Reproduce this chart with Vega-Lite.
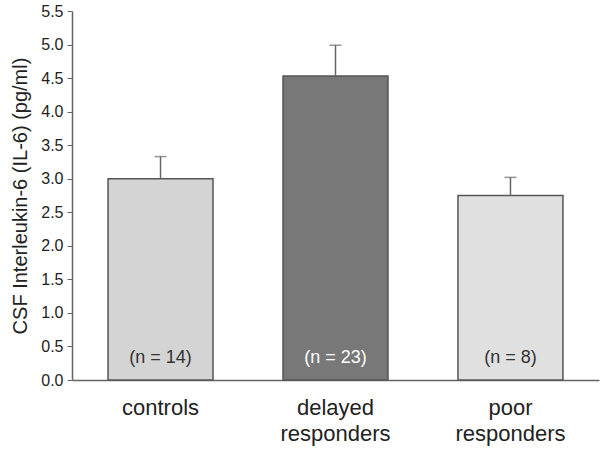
{
  "$schema": "https://vega.github.io/schema/vega-lite/v6.json",
  "width": 527,
  "height": 369,
  "autosize": {"type": "none"},
  "padding": {"left": 72, "top": 11, "right": 1, "bottom": 69},
  "background": "white",
  "config": {
    "font": "Liberation Sans",
    "view": {"stroke": null}
  },
  "data": {
    "values": [
      {"group": "controls", "mean": 3.0, "upper": 3.33, "n": "(n = 14)"},
      {"group": "delayed responders", "mean": 4.53, "upper": 4.99, "n": "(n = 23)"},
      {"group": "poor responders", "mean": 2.75, "upper": 3.02, "n": "(n = 8)"}
    ]
  },
  "encoding": {
    "x": {
      "field": "group",
      "type": "nominal",
      "sort": null,
      "scale": {"paddingInner": 0.4, "paddingOuter": 0.206},
      "axis": {
        "title": null,
        "labelAngle": 0,
        "labelFontSize": 22,
        "labelColor": "#222",
        "labelExpr": "split(datum.label, ' ')",
        "labelLineHeight": 26,
        "labelPadding": 17,
        "labelBaseline": "top",
        "ticks": false,
        "domainColor": "#666",
        "domainWidth": 1.5
      }
    },
    "y": {
      "field": "mean",
      "type": "quantitative",
      "scale": {"domain": [0, 5.5], "nice": false},
      "axis": {
        "title": "CSF Interleukin-6 (IL-6) (pg/ml)",
        "titleFontSize": 20,
        "titleFontWeight": "normal",
        "titleColor": "#222",
        "titlePadding": 10,
        "values": [0, 0.5, 1, 1.5, 2, 2.5, 3, 3.5, 4, 4.5, 5, 5.5],
        "tickCount": 20,
        "format": ".1f",
        "labelFontSize": 16,
        "labelColor": "#222",
        "labelPadding": 4,
        "labelOverlap": false,
        "labelBound": false,
        "grid": false,
        "tickColor": "#666",
        "tickSize": 5,
        "domainColor": "#666",
        "domainWidth": 1.5
      }
    }
  },
  "layer": [
    {
      "mark": {"type": "bar", "stroke": "#555", "strokeWidth": 1.5},
      "encoding": {
        "fill": {
          "field": "group",
          "type": "nominal",
          "scale": {
            "domain": ["controls", "delayed responders", "poor responders"],
            "range": ["#d4d4d4", "#787878", "#e0e0e0"]
          },
          "legend": null
        }
      }
    },
    {
      "mark": {"type": "rule", "color": "#666", "strokeWidth": 1.5},
      "encoding": {
        "y2": {"field": "upper"}
      }
    },
    {
      "mark": {"type": "tick", "color": "#666", "thickness": 1.5, "size": 12, "orient": "horizontal"},
      "encoding": {
        "y": {"field": "upper", "type": "quantitative"}
      }
    },
    {
      "mark": {"type": "text", "fontSize": 18, "dy": -22, "baseline": "middle"},
      "encoding": {
        "y": {"datum": 0, "type": "quantitative"},
        "text": {"field": "n"},
        "color": {
          "condition": {"test": "datum.group === 'delayed responders'", "value": "white"},
          "value": "#333"
        }
      }
    }
  ]
}
